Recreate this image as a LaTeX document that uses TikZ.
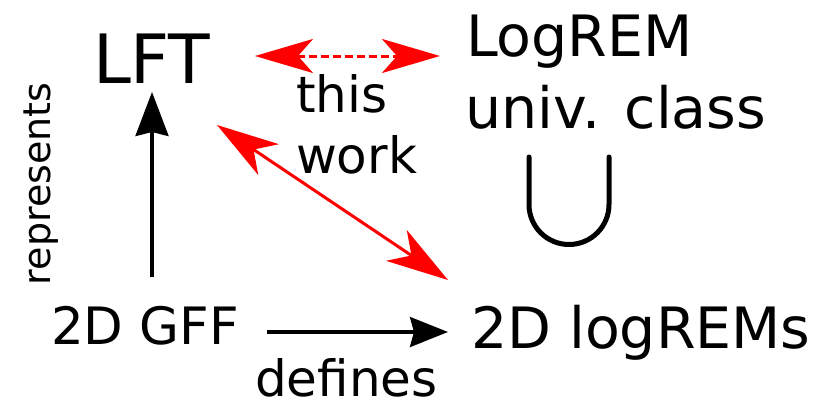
\documentclass[tikz,border=0pt]{standalone}
\usepackage{fontspec}
\setmainfont{DejaVu Sans}
\usetikzlibrary{arrows.meta}
\definecolor{arrred}{RGB}{255,0,0}
\tikzset{
  lbl/.style={inner sep=0pt, outer sep=0pt, anchor=base west},
  blkarrow/.style={line width=3.2pt, -{Stealth[length=44pt,width=33pt,inset=4pt]}},
  defarrow/.style={line width=3.2pt, -{Stealth[length=38pt,width=30pt,inset=4pt]}},
  dashedred/.style={arrred, line width=3pt, dash pattern=on 8pt off 4pt, {Stealth[length=58pt,width=34pt,inset=15pt]}-{Stealth[length=58pt,width=34pt,inset=15pt]}},
  diagred/.style={arrred, line width=3pt, {Stealth[length=62pt,width=37pt,inset=18pt]}-{Stealth[length=62pt,width=37pt,inset=18pt]}},
  subsetmark/.style={line width=5pt, line cap=round}
}
\begin{document}
\begin{tikzpicture}[x=1pt,y=-1pt]
\useasboundingbox (0,0) rectangle (825,402);
% text nodes
\node[lbl] (lft) at (93,83) {\fontsize{68}{80}\selectfont LFT};
\node[lbl] (logrem) at (466,56) {\fontsize{57}{70}\selectfont LogREM};
\node[lbl] (univ) at (465,128) {\fontsize{57}{70}\selectfont univ. class};
\node[lbl] (logrems) at (471,348) {\fontsize{57}{68}\selectfont 2D logREMs};
\node[lbl] (gff) at (51,344) {\fontsize{51.5}{60}\selectfont 2D GFF};
\node[lbl] (defines) at (255,396) {\fontsize{50}{60}\selectfont defines};
\node[lbl] (this) at (296,112) {\fontsize{50}{60}\selectfont this};
\node[lbl] (work) at (296,173) {\fontsize{50}{60}\selectfont work};
\node[lbl, rotate=90] (repr) at (50,285) {\fontsize{38}{46}\selectfont represents};
% connector end points
\coordinate (upS) at (152,277);
\coordinate (upE) at (152,92);
\coordinate (defS) at (267,332);
\coordinate (defE) at (448,332);
\coordinate (dashL) at (255,56);
\coordinate (dashR) at (440,56);
\coordinate (diagA) at (217,125);
\coordinate (diagB) at (448,280);
% connectors
\draw[blkarrow] (upS) -- (upE);
\draw[defarrow] (defS) -- (defE);
\draw[dashedred] (dashL) -- (dashR);
\draw[diagred] (diagA) -- (diagB);
% subset symbol (rotated)
\coordinate (subL) at (529,157);
\draw[subsetmark] (subL) -- (529,204.5) arc[start angle=180, end angle=360, x radius=40, y radius=-40] -- (609,157);
\end{tikzpicture}
\end{document}
